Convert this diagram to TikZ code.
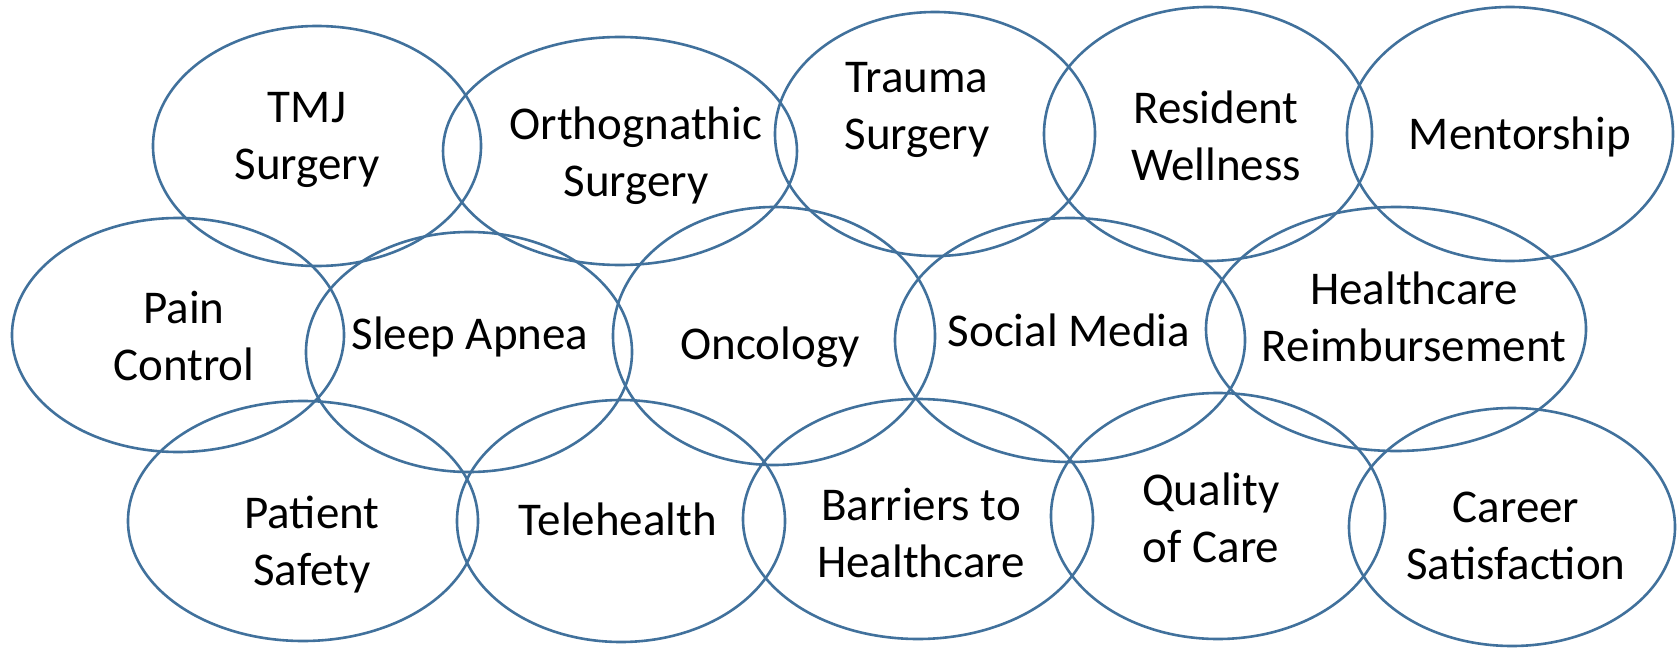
\documentclass[tikz,border=0pt]{standalone}
\usepackage{fontspec}
\setmainfont{Carlito}
\usepackage{xcolor}
\usepackage{tikz}

\definecolor{ringblue}{RGB}{65,113,156}

\begin{document}
\begin{tikzpicture}[x=0.5pt,y=-0.5pt,
  ring/.style={draw=ringblue, line width=1.3pt},
  topic/.style={align=center, inner sep=0pt, font=\fontsize{23.5}{28.5}\selectfont}]
\useasboundingbox (0,0) rectangle (1677,648);

% Centres of the circles
\coordinate (TMJ) at (317,146);
\coordinate (ORT) at (620,151);
\coordinate (TRA) at (935,134);
\coordinate (RES) at (1208,134);
\coordinate (MEN) at (1510,134);
\coordinate (PAI) at (178,335);
\coordinate (SLE) at (469,352);
\coordinate (ONC) at (774,336);
\coordinate (SOC) at (1070,340);
\coordinate (HEA) at (1396,329);
\coordinate (PAT) at (303,521);
\coordinate (TEL) at (621,521);
\coordinate (BAR) at (918,519);
\coordinate (QUA) at (1218,516);
\coordinate (CAR) at (1512,527);

% Top row
\draw[ring] (TMJ) ellipse [x radius=164, y radius=120];
\draw[ring] (ORT) ellipse [x radius=177, y radius=114];
\draw[ring] (TRA) ellipse [x radius=160, y radius=122];
\draw[ring] (RES) ellipse [x radius=164, y radius=127];
\draw[ring] (MEN) ellipse [x radius=163, y radius=127];

% Middle row
\draw[ring] (PAI) ellipse [x radius=166, y radius=117];
\draw[ring] (SLE) ellipse [x radius=163, y radius=120];
\draw[ring] (ONC) ellipse [x radius=161, y radius=129];
\draw[ring] (SOC) ellipse [x radius=175, y radius=122];
\draw[ring] (HEA) ellipse [x radius=190, y radius=122];

% Bottom row
\draw[ring] (PAT) ellipse [x radius=175, y radius=120];
\draw[ring] (TEL) ellipse [x radius=164, y radius=121];
\draw[ring] (BAR) ellipse [x radius=175, y radius=120];
\draw[ring] (QUA) ellipse [x radius=167, y radius=123];
\draw[ring] (CAR) ellipse [x radius=163, y radius=119];

% Labels
\node[topic] (tmj) at (307,140) {TMJ\\Surgery};
\node[topic] (ortho) at (636,156) {Orthognathic\\Surgery};
\node[topic] (trauma) at (917,110) {Trauma\\Surgery};
\node[topic] (wellness) at (1216,136) {Resident\\Wellness};
\node[topic] (mentor) at (1520,137) {Mentorship};
\node[topic] (pain) at (184,336) {Pain\\Control};
\node[topic] (apnea) at (470,337) {Sleep Apnea};
\node[topic] (onco) at (770,347) {Oncology};
\node[topic] (social) at (1069,330) {Social Media};
\node[topic] (reimb) at (1414,317) {Healthcare\\Reimbursement};
\node[topic] (safety) at (312,545) {Patient\\Safety};
\node[topic] (tele) at (618,519) {Telehealth};
\node[topic] (barrier) at (921,533) {Barriers to\\Healthcare};
\node[topic] (quality) at (1211,518) {Quality\\of Care};
\node[topic] (career) at (1516,536) {Career\\Satisfaction};
\end{tikzpicture}
\end{document}
